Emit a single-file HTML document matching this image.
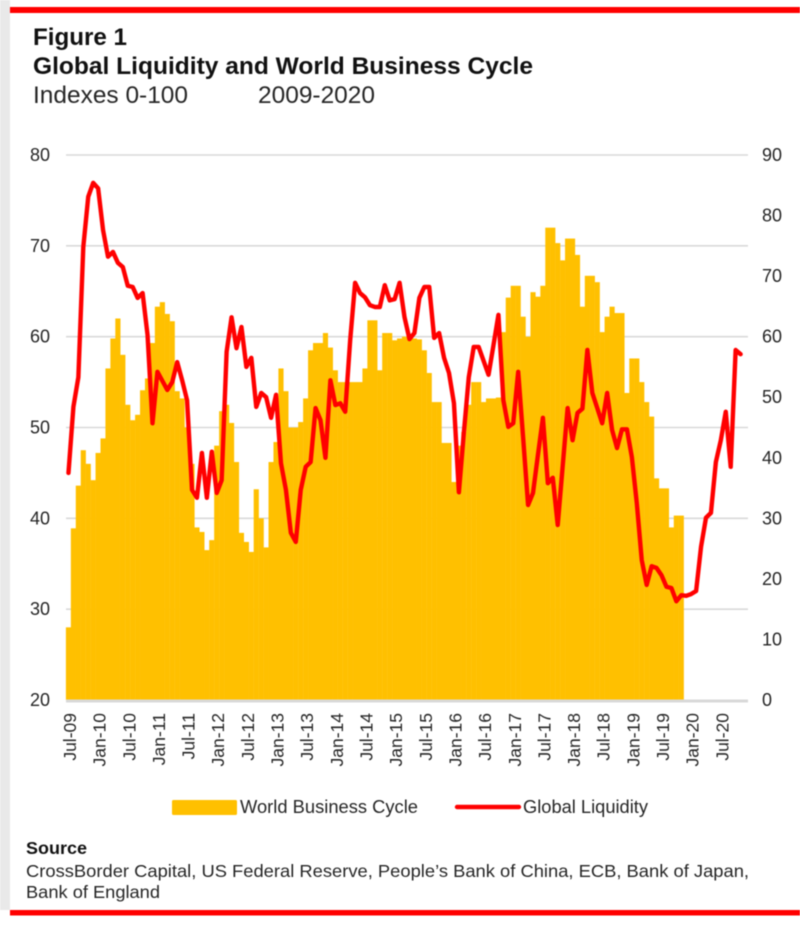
<!DOCTYPE html>
<html>
<head>
<meta charset="utf-8">
<title>Global Liquidity and World Business Cycle</title>
<style>
html,body{margin:0;padding:0;background:#fff;}
svg{display:block;font-family:"Liberation Sans",Arial,sans-serif;filter:blur(0.45px);}
text{fill:#262626;}
</style>
</head>
<body>
<svg id="chart" xmlns="http://www.w3.org/2000/svg" width="800" height="928" viewBox="0 0 800 928">
  <rect x="0" y="0" width="800" height="928" fill="#fff"/>
  <rect x="0" y="0" width="10" height="910" fill="#e9e9e9"/>
  <rect x="10" y="7" width="790" height="6" fill="#f00"/>
  <text x="33" y="45" font-size="24" font-weight="bold" textLength="94" lengthAdjust="spacingAndGlyphs" style="fill:#111">Figure 1</text>
  <text x="33" y="74" font-size="24" font-weight="bold" textLength="500" lengthAdjust="spacingAndGlyphs" style="fill:#111">Global Liquidity and World Business Cycle</text>
  <text x="33" y="103" font-size="24.5" textLength="155" lengthAdjust="spacingAndGlyphs">Indexes 0-100</text>
  <text x="258" y="103" font-size="24.5" textLength="117" lengthAdjust="spacingAndGlyphs">2009-2020</text>
  <g id="grid"></g>
  <g id="bars"></g>
  <rect x="66" y="699.5" width="682" height="3" fill="#d9d9d9"/>
  <path id="line" fill="none" stroke="#f00" stroke-width="4.4" stroke-linejoin="round" stroke-linecap="round"/>
  <g id="leftAxis"></g>
  <g id="rightAxis"></g>
  <g id="xAxis"></g>
  <g>
    <rect x="172" y="800" width="65" height="15" rx="1.5" fill="#ffc000"/>
    <text x="240" y="813" font-size="18" textLength="178" lengthAdjust="spacingAndGlyphs">World Business Cycle</text>
    <line x1="457" y1="807" x2="519" y2="807" stroke="#f00" stroke-width="4.4" stroke-linecap="round"/>
    <text x="523" y="813" font-size="18" textLength="125" lengthAdjust="spacingAndGlyphs">Global Liquidity</text>
  </g>
  <text x="26" y="854" font-size="17.5" font-weight="bold" textLength="61" lengthAdjust="spacingAndGlyphs" style="fill:#111">Source</text>
  <text x="26" y="877" font-size="17.5" textLength="723" lengthAdjust="spacingAndGlyphs">CrossBorder Capital, US Federal Reserve, People’s Bank of China, ECB, Bank of Japan,</text>
  <text x="26" y="898" font-size="17.5" textLength="134" lengthAdjust="spacingAndGlyphs">Bank of England</text>
  <rect x="10" y="910" width="790" height="5.5" fill="#f00"/>
</svg>
<script>
const leftTicks = [20, 30, 40, 50, 60, 70, 80];
const rightTicks = [0, 10, 20, 30, 40, 50, 60, 70, 80, 90];
const monthLabels = ["Jul-09","Jan-10","Jul-10","Jan-11","Jul-11","Jan-12","Jul-12","Jan-13","Jul-13","Jan-14","Jul-14","Jan-15","Jul-15","Jan-16","Jul-16","Jan-17","Jul-17","Jan-18","Jul-18","Jan-19","Jul-19","Jan-20","Jul-20"];
const monthCount = 138;
const worldBusinessCycle = [
28,38.9,43.6,47.5,46,44.2,47.2,48.8,56.5,59.8,62,58,52.5,50.8,51.4,54.1,55.4,59.3,63.3,63.8,62.5,61.7,54,53.2,50,46,
39,38.5,36.5,37.6,48,51.8,52.5,50.5,46.2,38.4,37.4,36.3,43.2,40,36.8,46.2,48.4,56.5,54,50,50,50.6,53.2,58.5,59.3,59.3,
60.4,58.8,56.3,55,55,55,55,55,56.5,61.8,61.8,56.3,60.4,60.4,59.6,59.8,60,60,59.8,59.7,58.5,56,52.8,52.8,48.3,48.3,44,48,
49.5,52.5,55,55,52.8,53.2,53.2,53.3,60.5,64.3,65.6,65.6,62.2,60,64.9,64.4,65.6,72,72,70.3,68.4,70.8,70.8,69,63.3,66.7,
66.7,66,60.5,62.2,63.3,62.6,62.6,53.8,57.6,57.6,55,52.8,51.2,44.4,43.3,43.3,39,40.3,40.3
];
const globalLiquidity = [
37.5,48.4,53.3,74.8,83.1,85.4,84.5,77.6,73.2,74,72.2,71.5,68.4,68.2,66.4,67.2,60.3,45.7,54.2,52.7,51.2,52.5,55.8,52.8,49.5,34.7,
33.4,40.8,33.4,41,34.2,36.3,57.5,63.2,58.1,61.6,55,56.5,48.4,50.7,50,46.6,50.4,39.1,34.7,27.6,26.1,34.7,38.5,39.3,48.2,46.2,
40,52.8,48.7,49,47.6,59.4,68.9,67.2,66.5,65.2,64.9,64.9,68.5,66,66.2,68.9,63.2,59.6,60.6,66.4,68.2,68.2,59.8,60.6,56.5,54,49,34.3,
44.1,53.3,58.3,58.3,56,53.7,58.6,63.6,49.5,45.1,45.7,54.2,43.3,32.2,34.2,40.5,46.6,35.8,36.7,28.9,38.6,48.2,42.9,47.4,48.1,57.8,
50.7,48.2,45.7,50.7,44.6,41.6,44.7,44.7,40.1,32.5,23.1,19,22.1,21.8,20.6,18.7,18.5,16.3,17.3,17.2,17.5,18,25.3,30.1,30.9,39.3,42.9,47.6,38.5,57.8,57.1
];

const NS = "http://www.w3.org/2000/svg";
const plotLeft = 66, plotRight = 748, plotTop = 155, plotBottom = 700;
const bandWidth = (plotRight - plotLeft) / monthCount;
function xBand(i) { return plotLeft + bandWidth * i; }
function xCenter(i) { return xBand(i) + bandWidth / 2; }
function yLeft(v) { return plotBottom - (v - 20) / 60 * (plotBottom - plotTop); }
function yRight(v) { return plotBottom - v / 90 * (plotBottom - plotTop); }
function make(tag, attrs, parent, content) {
  const el = document.createElementNS(NS, tag);
  for (const k in attrs) el.setAttribute(k, attrs[k]);
  if (content !== undefined) el.textContent = content;
  parent.appendChild(el);
  return el;
}

const grid = document.getElementById("grid");
leftTicks.slice(1).forEach(function (t) {
  const g = make("line", { x1: plotLeft, x2: plotRight, y1: yLeft(t), y2: yLeft(t), stroke: "#d9d9d9", "stroke-width": 1.6 }, grid);
  
  
});

const bars = document.getElementById("bars");
worldBusinessCycle.forEach(function (v, i) {
  const b = make("rect", { x: xBand(i) - 0.1, y: yLeft(v), width: bandWidth + 0.2, height: plotBottom - yLeft(v), fill: "#ffc000" }, bars);
  
  
});

document.getElementById("line").setAttribute("d", globalLiquidity.map(function (v, i) {
  return (i ? "L" : "M") + xCenter(i).toFixed(2) + " " + yRight(v).toFixed(2);
}).join(""));

const leftAxis = document.getElementById("leftAxis");
leftTicks.forEach(function (t) {
  const l = make("text", { x: 50, y: yLeft(t) + 6, "text-anchor": "end", "font-size": 18 }, leftAxis, String(t));
  
  
});

const rightAxis = document.getElementById("rightAxis");
rightTicks.forEach(function (t) {
  const l = make("text", { x: 762, y: yRight(t) + 6, "text-anchor": "start", "font-size": 18 }, rightAxis, String(t));
  
  
});

const xAxis = document.getElementById("xAxis");
monthLabels.forEach(function (s, i) {
  const cx = xCenter(i * 6) + 1.5;
  const l = make("text", { x: 0, y: 0, transform: "translate(" + (cx + 6).toFixed(2) + " 713) rotate(-90)", "text-anchor": "end", "font-size": 17.5 }, xAxis, s);
  
  
});
</script>
</body>
</html>
